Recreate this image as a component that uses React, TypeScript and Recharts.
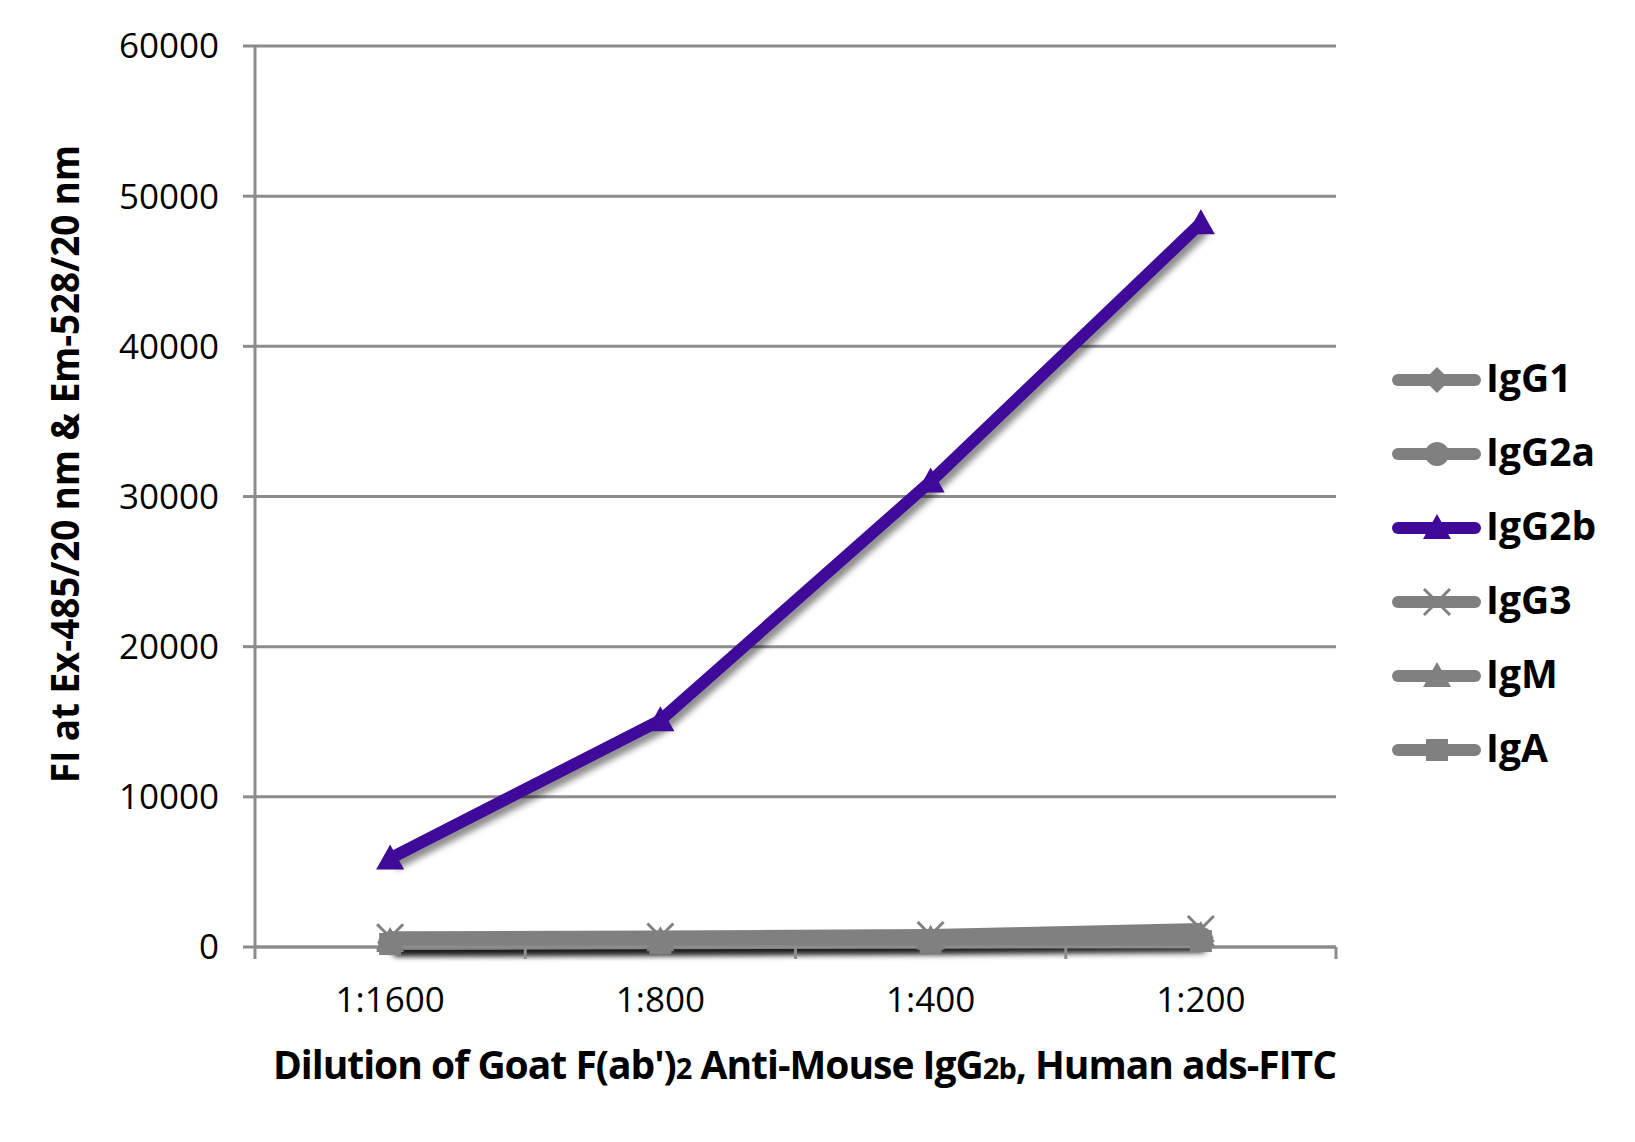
import React from "react";
import { CartesianGrid, Legend, Line, LineChart, XAxis, YAxis } from "recharts";

const dilutions = ["1:1600", "1:800", "1:400", "1:200"];
const igG1 = [300, 350, 450, 600];
const igG2a = [250, 300, 400, 550];
const igG2b = [5900, 15100, 31000, 48200];
const igG3 = [650, 700, 800, 1200];
const igM = [400, 450, 550, 800];
const igA = [200, 250, 300, 400];
const yTicks = [0, 10000, 20000, 30000, 40000, 50000, 60000];

const GRAY = "#808080";
const PURPLE = "#3f0a99";
const AXIS = "#8c8c8c";
const FONT = "'Open Sans', sans-serif";

type Shape = "diamond" | "circle" | "triangle" | "x" | "square";

const series: { key: string; values: number[]; color: string; shape: Shape }[] = [
	{ key: "IgG1", values: igG1, color: GRAY, shape: "diamond" },
	{ key: "IgG2a", values: igG2a, color: GRAY, shape: "circle" },
	{ key: "IgG2b", values: igG2b, color: PURPLE, shape: "triangle" },
	{ key: "IgG3", values: igG3, color: GRAY, shape: "x" },
	{ key: "IgM", values: igM, color: GRAY, shape: "triangle" },
	{ key: "IgA", values: igA, color: GRAY, shape: "square" },
];

// numeric x so the tick marks can sit between the categories
const data = dilutions.map((d, i) => {
	const row: Record<string, number | string> = { x: i + 0.5, name: d };
	series.forEach((s) => (row[s.key] = s.values[i]));
	return row;
});
const xTicks = Array.from({ length: dilutions.length * 2 + 1 }, (_, i) => i / 2);

function Marker({ cx, cy, shape, color }: { cx: number; cy: number; shape: Shape; color: string }) {
	switch (shape) {
		case "diamond":
			return (
				<polygon
					points={`${cx},${cy - 13} ${cx + 13},${cy} ${cx},${cy + 13} ${cx - 13},${cy}`}
					fill={color}
				/>
			);
		case "circle":
			return <circle cx={cx} cy={cy} r={12} fill={color} />;
		case "triangle":
			return (
				<polygon
					points={`${cx},${cy - 14} ${cx + 14},${cy + 11} ${cx - 14},${cy + 11}`}
					fill={color}
				/>
			);
		case "x":
			return (
				<path
					d={`M${cx - 13},${cy - 13}L${cx + 13},${cy + 13}M${cx + 13},${cy - 13}L${cx - 13},${cy + 13}`}
					stroke={color}
					strokeWidth={3}
					fill="none"
				/>
			);
		default:
			return <rect x={cx - 11} y={cy - 11} width={22} height={22} fill={color} />;
	}
}

function XTick(props: any) {
	const { x, y, payload } = props;
	const v = payload.value as number;
	if (Number.isInteger(v))
		return <line x1={x} x2={x} y1={y} y2={y + 12} stroke={AXIS} strokeWidth={3} />;
	return (
		<text x={x} y={y + 65} textAnchor="middle" fontSize={35} fontFamily={FONT} fill="#000">
			{dilutions[Math.floor(v)]}
		</text>
	);
}

function YTitle() {
	return (
		<text
			transform="translate(79, 464) rotate(-90)"
			textAnchor="middle"
			fontSize={40}
			fontWeight="bold"
			fontFamily={FONT}
			fill="#000"
			textLength={638}
			lengthAdjust="spacingAndGlyphs"
		>
			FI at Ex-485/20 nm &amp; Em-528/20 nm
		</text>
	);
}

function XTitle() {
	return (
		<text
			x={1336}
			y={1079}
			textAnchor="end"
			fontSize={39}
			fontWeight="bold"
			fontFamily={FONT}
			fill="#000"
			letterSpacing={-1}
		>
			Dilution of Goat F(ab')
			<tspan fontSize={29}>2</tspan>
			<tspan> Anti-Mouse IgG</tspan>
			<tspan fontSize={29}>2b</tspan>
			<tspan>, Human ads-FITC</tspan>
		</text>
	);
}

function LegendBox() {
	return (
		<svg width={245} height={450}>
			{series.map((s, i) => {
				const cy = 40 + i * 74;
				return (
					<g key={s.key}>
						<line
							x1={8}
							x2={85}
							y1={cy}
							y2={cy}
							stroke={s.color}
							strokeWidth={12}
							strokeLinecap="round"
						/>
						<Marker cx={47} cy={cy} shape={s.shape} color={s.color} />
						<text
							x={96}
							y={cy + 12}
							fontSize={39}
							fontWeight="bold"
							fontFamily={FONT}
							fill="#000"
						>
							{s.key}
						</text>
					</g>
				);
			})}
		</svg>
	);
}

export default function App() {
	return (
		<div style={{ width: 1635, height: 1142, background: "#fff" }}>
			<style>{`body{margin:0}.recharts-line{filter:drop-shadow(4px 6px 3px rgba(0,0,0,0.45))}`}</style>
			<LineChart
				width={1635}
				height={1142}
				data={data}
				margin={{ top: 46, right: 299, left: 0, bottom: 0 }}
			>
				<CartesianGrid vertical={false} stroke={AXIS} strokeWidth={3} />
				<XAxis
					type="number"
					dataKey="x"
					domain={[0, dilutions.length]}
					ticks={xTicks}
					interval={0}
					tick={<XTick />}
					tickLine={false}
					tickSize={0}
					tickMargin={0}
					axisLine={{ stroke: AXIS, strokeWidth: 3 }}
					height={195}
					label={<XTitle />}
				/>
				<YAxis
					domain={[0, 60000]}
					ticks={yTicks}
					interval={0}
					width={255}
					tickSize={12}
					tickMargin={24}
					tick={{ fontSize: 35, fill: "#000", fontFamily: FONT }}
					tickLine={{ stroke: AXIS, strokeWidth: 3 }}
					axisLine={{ stroke: AXIS, strokeWidth: 3 }}
					label={<YTitle />}
				/>
				<Legend
					layout="vertical"
					align="center"
					verticalAlign="middle"
					wrapperStyle={{ left: 1390, top: 340, width: 245, height: 450 }}
					content={() => <LegendBox />}
				/>
				{series.map((s) => (
					<Line
						key={s.key}
						dataKey={s.key}
						type="linear"
						stroke={s.color}
						strokeWidth={12}
						isAnimationActive={false}
						dot={(p: any) => (
							<Marker key={`${s.key}-${p.index}`} cx={p.cx} cy={p.cy} shape={s.shape} color={s.color} />
						)}
						activeDot={false}
					/>
				))}
			</LineChart>
		</div>
	);
}
